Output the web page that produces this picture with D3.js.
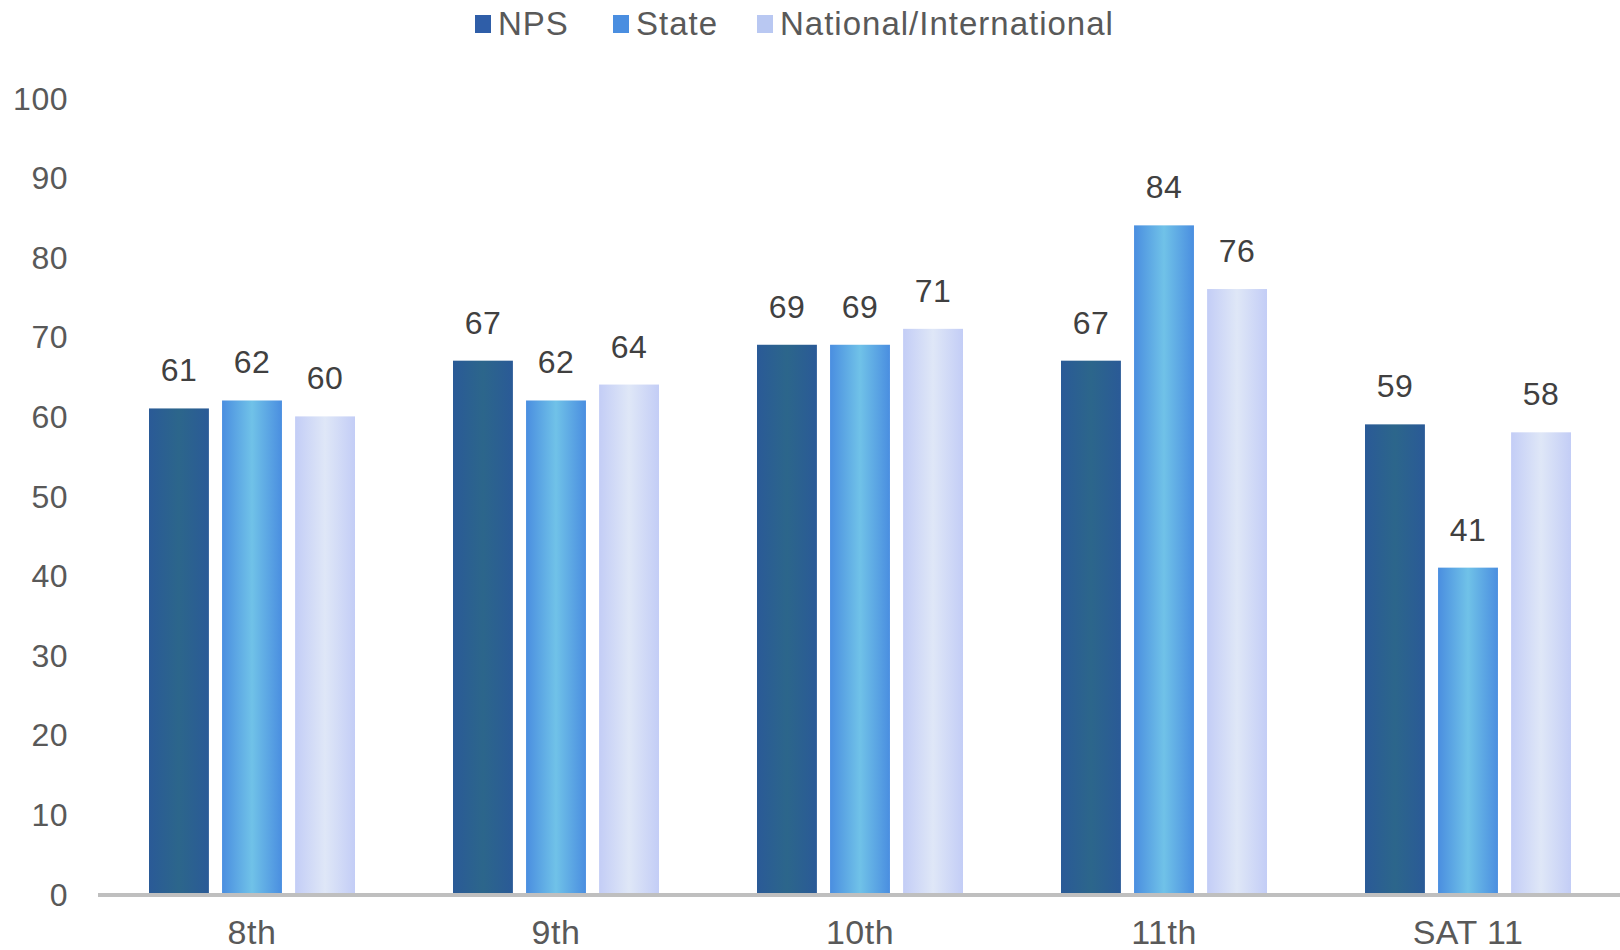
<!DOCTYPE html>
<html>
<head>
<meta charset="utf-8">
<title>NPS vs State vs National</title>
<script src="https://d3js.org/d3.v7.min.js"></script>
<style>
    body {
        margin: 0;
        overflow: hidden;
        background: #ffffff;
    }
    text {
        font-family: "Liberation Sans", Arial, sans-serif;
        fill: #595959;
        letter-spacing: 0.5px;
    }
</style>
</head>
<body>
<script>
    const categories = ["8th", "9th", "10th", "11th", "SAT 11"];
    const seriesNames = ["NPS", "State", "National/International"];
    const npsValues = [61, 67, 69, 67, 59];
    const stateValues = [62, 62, 69, 84, 41];
    const nationalValues = [60, 64, 71, 76, 58];
    const yTicks = [0, 10, 20, 30, 40, 50, 60, 70, 80, 90, 100];

    const width = 1620;
    const height = 950;

    // edge / centre colours for the Excel-like horizontal gradient
    const shades = [
        { edge: "#2a5a97", mid: "#2c668b", key: "#2f5ea8" },
        { edge: "#4a8ee0", mid: "#70c2e8", key: "#4a8ee0" },
        { edge: "#c3cdf6", mid: "#dfe7f7", key: "#b9c8f2" }
    ];

    const rows = categories.map(function(c, i) {
        return { cat: c, values: [npsValues[i], stateValues[i], nationalValues[i]] };
    });

    const svg = d3.select("body")
        .append("svg")
        .attr("width", width)
        .attr("height", height);

    const defs = svg.append("defs");
    shades.forEach(function(s, i) {
        const g = defs.append("linearGradient")
            .attr("id", "grad" + i)
            .attr("x1", "0%").attr("x2", "100%")
            .attr("y1", "0%").attr("y2", "0%");
        g.append("stop").attr("offset", "0%").attr("stop-color", s.edge);
        g.append("stop").attr("offset", "50%").attr("stop-color", s.mid);
        g.append("stop").attr("offset", "100%").attr("stop-color", s.edge);
    });

    const x0 = d3.scaleBand()
        .domain(categories)
        .range([100, 1620]);

    const groupWidth = 206;
    const x1 = d3.scaleBand()
        .domain(d3.range(seriesNames.length))
        .range([0, groupWidth])
        .paddingInner(0.18);

    const y = d3.scaleLinear()
        .domain([0, 100])
        .range([894, 98]);

    // y tick labels (no axis line, no gridlines)
    svg.append("g")
        .selectAll("text")
        .data(yTicks)
        .join("text")
        .attr("x", 68)
        .attr("y", function(d) { return y(d); })
        .attr("dy", "0.36em")
        .attr("text-anchor", "end")
        .style("font-size", "32px")
        .text(function(d) { return d; });

    const groups = svg.append("g")
        .selectAll("g")
        .data(rows)
        .join("g")
        .attr("transform", function(d) {
            return "translate(" + (x0(d.cat) + x0.bandwidth() / 2 - groupWidth / 2) + ",0)";
        });

    groups.selectAll("rect")
        .data(function(d) { return d.values; })
        .join("rect")
        .attr("x", function(d, i) { return x1(i); })
        .attr("y", function(d) { return y(d); })
        .attr("width", x1.bandwidth())
        .attr("height", function(d) { return y(0) - y(d); })
        .attr("fill", function(d, i) { return "url(#grad" + i + ")"; });

    groups.selectAll("text")
        .data(function(d) { return d.values; })
        .join("text")
        .attr("x", function(d, i) { return x1(i) + x1.bandwidth() / 2; })
        .attr("y", function(d) { return y(d) - 27; })
        .attr("text-anchor", "middle")
        .style("font-size", "32px")
        .style("fill", "#404040")
        .text(function(d) { return d; });

    // baseline
    svg.append("line")
        .attr("x1", 98)
        .attr("x2", 1620)
        .attr("y1", y(0) + 1)
        .attr("y2", y(0) + 1)
        .attr("stroke", "#bfbfbf")
        .attr("stroke-width", 4);

    // category labels
    svg.append("g")
        .selectAll("text")
        .data(categories)
        .join("text")
        .attr("x", function(d) { return x0(d) + x0.bandwidth() / 2; })
        .attr("y", 944)
        .attr("text-anchor", "middle")
        .style("font-size", "34px")
        .text(function(d) { return d; });

    // legend
    const legendX = [475, 613, 757];
    const legend = svg.append("g")
        .selectAll("g")
        .data(seriesNames)
        .join("g")
        .attr("transform", function(d, i) { return "translate(" + legendX[i] + ",0)"; });

    legend.append("rect")
        .attr("x", 0)
        .attr("y", 15)
        .attr("width", 16)
        .attr("height", 18)
        .attr("fill", function(d, i) { return shades[i].key; });

    legend.append("text")
        .attr("x", 23)
        .attr("y", 35)
        .style("font-size", "33px")
        .style("letter-spacing", "1px")
        .text(function(d) { return d; });
</script>
</body>
</html>
